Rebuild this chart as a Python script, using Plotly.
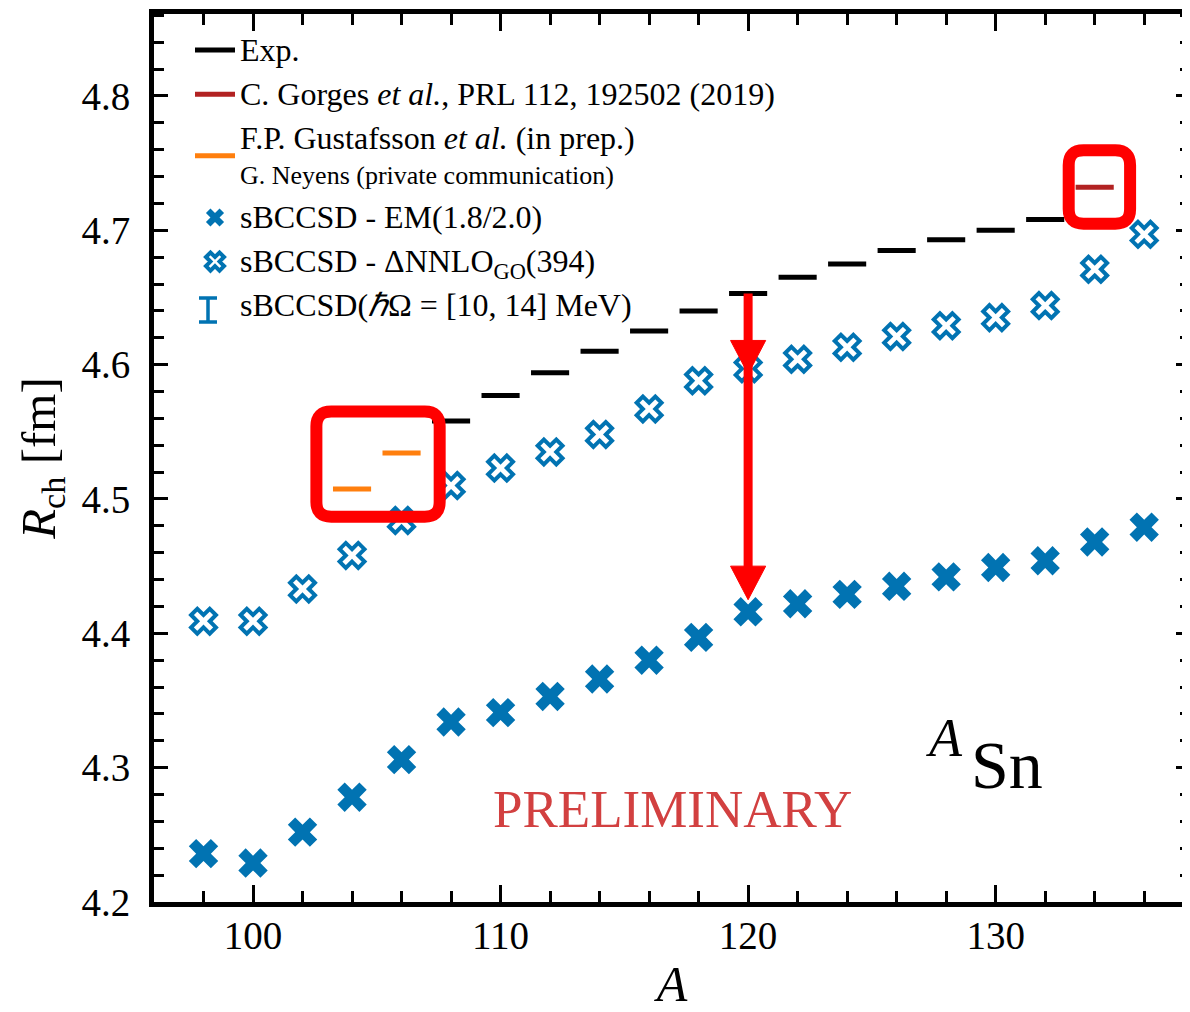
import plotly.graph_objects as go

# ---------------- data ----------------
A_theory = [98, 100, 102, 104, 106, 108, 110, 112, 114, 116, 118, 120,
            122, 124, 126, 128, 130, 132, 134, 136]
R_em = [4.236, 4.229, 4.252, 4.278, 4.306, 4.334, 4.341, 4.353, 4.366, 4.380,
        4.397, 4.416, 4.422, 4.429, 4.435, 4.442, 4.449, 4.454, 4.468, 4.479]
R_nnlo = [4.409, 4.409, 4.433, 4.458, 4.484, 4.510, 4.523, 4.535, 4.548, 4.567,
          4.588, 4.597, 4.604, 4.613, 4.621, 4.629, 4.635, 4.644, 4.671, 4.697]

A_exp = [108, 110, 112, 114, 116, 118, 120, 122, 124, 126, 128, 130, 132]
R_exp = [4.558, 4.577, 4.594, 4.610, 4.625, 4.640, 4.653, 4.665, 4.675,
         4.685, 4.693, 4.700, 4.708]

A_gorges = [134]
R_gorges = [4.732]

A_gus = [104, 106]
R_gus = [4.5075, 4.5343]

# ---------------- style ----------------
SERIF = "Liberation Serif, Times New Roman, serif"
BLUE = "#0173b2"
RED = "#ff0000"
HALF = 0.77  # half width of the horizontal data bars (in A units)

# page offset (browser body margin) compensation
OFF = 8
PL, PR, PT, PB = 154, 1190, 14, 902   # plot area in page pixels


def px2paper(px, py):
    return (px - PL) / (PR - PL), (PB - py) / (PB - PT)


def bars(xs, ys):
    bx, by = [], []
    for a, r in zip(xs, ys):
        bx += [a - HALF, a + HALF, None]
        by += [r, r, None]
    return bx, by


def lg(text):
    return f"<span style='font-size:32px'>{text}</span>"


fig = go.Figure()

ex, ey = bars(A_exp, R_exp)
fig.add_trace(go.Scatter(x=ex, y=ey, mode="lines", name=lg("Exp."),
                         line=dict(color="black", width=5), legendgroup="g1"))
gx, gy = bars(A_gorges, R_gorges)
fig.add_trace(go.Scatter(x=gx, y=gy, mode="lines",
                         name=lg("C. Gorges <i>et al.</i>, PRL 112, 192502 (2019)"),
                         line=dict(color="#b22222", width=5), legendgroup="g2"))
ux, uy = bars(A_gus, R_gus)
fig.add_trace(go.Scatter(x=ux, y=uy, mode="lines",
                         name=lg("F.P. Gustafsson <i>et al.</i> (in prep.)") + "<br>"
                              "<span style='font-size:26px'>G. Neyens (private communication)</span>",
                         line=dict(color="#ff7f0e", width=5), legendgroup="g3"))
fig.add_trace(go.Scatter(x=A_theory, y=R_em, mode="markers",
                         name=lg("sBCCSD - EM(1.8/2.0)"),
                         marker=dict(symbol="x", size=26, color=BLUE, line=dict(width=0)),
                         legendgroup="g4"))
fig.add_trace(go.Scatter(x=A_theory, y=R_nnlo, mode="markers",
                         name=lg("sBCCSD - ΔNNLO<sub>GO</sub>(394)"),
                         marker=dict(symbol="x-open", size=22, color=BLUE,
                                     line=dict(width=4, color=BLUE)),
                         legendgroup="g5"))
fig.add_trace(go.Scatter(x=[None], y=[None], mode="markers",
                         name=lg("sBCCSD(<i>ℏ</i>Ω = [10, 14] MeV)"),
                         marker=dict(symbol="line-ns-open", size=16, color="rgba(0,0,0,0)",
                                     line=dict(width=3, color="rgba(0,0,0,0)")),
                         legendgroup="g6"))

# error-bar glyph for the last legend entry
ix, iy0 = px2paper(208, 298)
_, iy1 = px2paper(208, 322)
cx0, _ = px2paper(199, 0)
cx1, _ = px2paper(217, 0)
fig.add_shape(type="path", xref="paper", yref="paper",
              path=f"M{ix},{iy0} L{ix},{iy1} M{cx0},{iy0} L{cx1},{iy0} M{cx0},{iy1} L{cx1},{iy1}",
              line=dict(color=BLUE, width=3.5))

# ---------------- arrow (Exp -> EM at A = 120) ----------------
A_arrow = 120
a_top = R_exp[A_exp.index(A_arrow)]
a_tip = R_em[A_theory.index(A_arrow)] + 0.009
a_mid = 4.593
HEAD_W = 0.71    # half width of arrow head (A units)
HEAD_H = 0.025   # height of arrow head (fm)
fig.add_shape(type="line", x0=A_arrow, x1=A_arrow, y0=a_top, y1=a_tip + HEAD_H * 0.5,
              xref="x", yref="y", line=dict(color=RED, width=9), layer="above")
for tip in (a_tip, a_mid):
    fig.add_shape(type="path", xref="x", yref="y", layer="above",
                  path=f"M{A_arrow - HEAD_W},{tip + HEAD_H} L{A_arrow + HEAD_W},{tip + HEAD_H} "
                       f"L{A_arrow},{tip} Z",
                  fillcolor=RED, line=dict(color=RED, width=1))


# ---------------- highlight boxes ----------------
def rounded_box(x0, x1, y0, y1, rx, ry):
    return (f"M{x0 + rx},{y1} L{x1 - rx},{y1} Q{x1},{y1} {x1},{y1 - ry} "
            f"L{x1},{y0 + ry} Q{x1},{y0} {x1 - rx},{y0} "
            f"L{x0 + rx},{y0} Q{x0},{y0} {x0},{y0 + ry} "
            f"L{x0},{y1 - ry} Q{x0},{y1} {x0 + rx},{y1} Z")


for (x0, x1, y0, y1) in [(102.56, 107.54, 4.4868, 4.5651),
                         (132.95, 135.43, 4.7049, 4.7595)]:
    fig.add_shape(type="path", path=rounded_box(x0, x1, y0, y1, 0.6, 0.011),
                  xref="x", yref="y", line=dict(color=RED, width=12),
                  layer="above")

# ---------------- texts ----------------
fig.add_annotation(x=116.93, y=4.2695, xref="x", yref="y", text="PRELIMINARY",
                   showarrow=False, font=dict(family=SERIF, size=53, color="#d24040"))
fig.add_annotation(x=127.92, y=4.322, xref="x", yref="y", text="<i>A</i>",
                   showarrow=False, font=dict(family=SERIF, size=54, color="black"))
fig.add_annotation(x=130.46, y=4.302, xref="x", yref="y", text="Sn",
                   showarrow=False, font=dict(family=SERIF, size=68, color="black"))

axis_common = dict(showline=True, linewidth=5, linecolor="black", mirror="allticks",
                   ticks="inside", tickwidth=3, tickcolor="black", showgrid=False,
                   zeroline=False)
TICKFONT = dict(family=SERIF, size=39, color="black")

fig.update_xaxes(range=[96, 137.85], tick0=100, dtick=10, ticklen=17,
                 tickfont=TICKFONT,
                 minor=dict(ticks="inside", dtick=2, tick0=100, ticklen=11, tickwidth=3,
                            tickcolor="black"),
                 title=dict(text="<i>A</i>", font=dict(family=SERIF, size=50, color="black"),
                            standoff=41),
                 ticklabelstandoff=-5, **axis_common)
fig.update_yaxes(range=[4.2, 4.861], tick0=4.2, dtick=0.1, tickformat=".1f", ticklen=14,
                 tickfont=TICKFONT,
                 minor=dict(ticks="inside", dtick=0.02, tick0=4.2, ticklen=10, tickwidth=3,
                            tickcolor="black"),
                 title=dict(text="<i>R</i><sub>ch</sub> [fm]",
                            font=dict(family=SERIF, size=49, color="black"), standoff=12),
                 ticklabelstandoff=11, **axis_common)

W, H = 1190 - OFF, 1012 - OFF
fig.update_layout(
    width=W, height=H,
    margin=dict(l=PL - OFF, r=0, t=PT - OFF, b=H - (PB - OFF), autoexpand=False),
    paper_bgcolor="white", plot_bgcolor="white",
    font=dict(family=SERIF, color="black"),
    legend=dict(x=px2paper(190, 0)[0], y=px2paper(0, 26)[1], xanchor="left", yanchor="top",
                bgcolor="rgba(0,0,0,0)", borderwidth=0, tracegroupgap=6, itemwidth=40,
                font=dict(family=SERIF, size=27, color="black")),
)

fig.write_html("out.html")
